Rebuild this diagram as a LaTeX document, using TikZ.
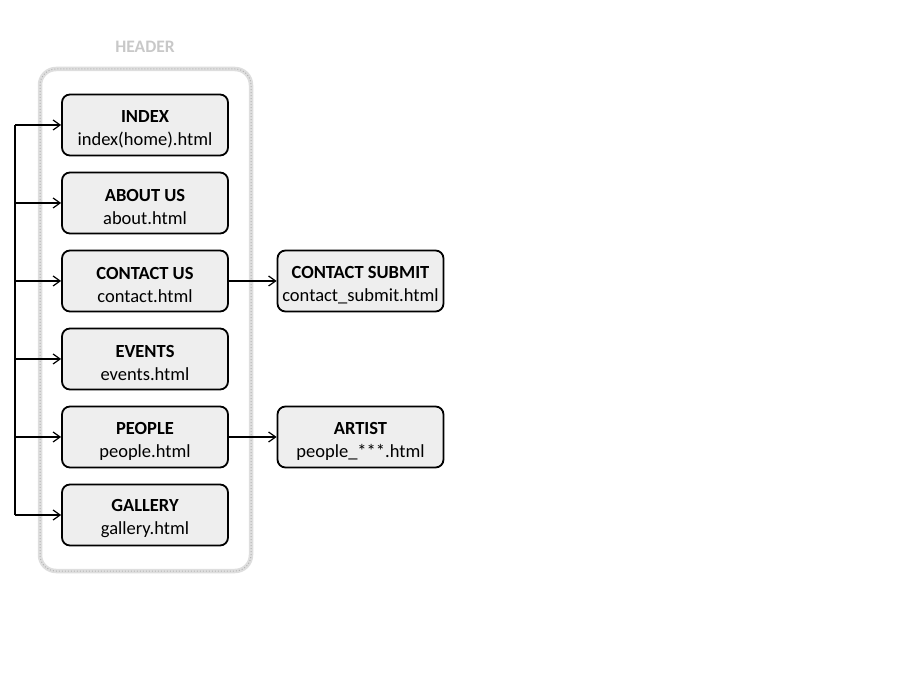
\documentclass[tikz,border=0pt]{standalone}
\usepackage{fontspec}
\setmainfont{Carlito}
\usetikzlibrary{arrows.meta}

\definecolor{boxfill}{RGB}{238,238,238}
\definecolor{headgray}{RGB}{200,200,200}

\newcommand{\pagetext}[2]{\rule{0pt}{20pt}\textbf{#1}\\#2}

\tikzset{
  page/.style={draw, rounded corners=8, fill=boxfill, line width=1.8,
    minimum width=166, minimum height=61, align=center, inner sep=0pt,
    font=\fontsize{18.5}{23}\selectfont},
  link/.style={line width=1.5, -{Straight Barb[length=7,width=10,line width=1.2]}}
}

\begin{document}
\begin{tikzpicture}[x=1pt, y=-1pt]

\useasboundingbox (0,0) rectangle (900,700);

% header frame
\draw[headgray!60, line width=4.5, rounded corners=16] (40,69) rectangle (251,571);
\draw[headgray!90!black, line width=1, dash pattern=on 1 off 2, rounded corners=16] (40,69) rectangle (251,571);
\node (header) at (145,47) {\fontsize{17.5}{20}\selectfont\bfseries\color{headgray}HEADER};

\node[page] (index)   at (145,125)   {\pagetext{INDEX}{index(home).html}};
\node[page] (about)   at (145,203)   {\pagetext{ABOUT US}{about.html}};
\node[page] (contact) at (145,281)   {\pagetext{CONTACT US}{contact.html}};
\node[page] (events)  at (145,359)   {\pagetext{EVENTS}{events.html}};
\node[page] (people)  at (145,437)   {\pagetext{PEOPLE}{people.html}};
\node[page] (gallery) at (145,515)   {\pagetext{GALLERY}{gallery.html}};

\node[page] (submit)  at (360.5,281) {\pagetext{CONTACT SUBMIT}{contact\_submit.html}};
\node[page] (artist)  at (360.5,437) {\pagetext{ARTIST}{people\_***.html}};

\coordinate (bus) at (15,0);

\draw[line width=1.5] (index.west -| bus) -- (gallery.west -| bus);
\foreach \p in {index,about,contact,events,people,gallery}
  \draw[link] (\p.west -| bus) -- (\p.west);

\draw[link] (contact) -- (submit);
\draw[link] (people) -- (artist);

\end{tikzpicture}
\end{document}
